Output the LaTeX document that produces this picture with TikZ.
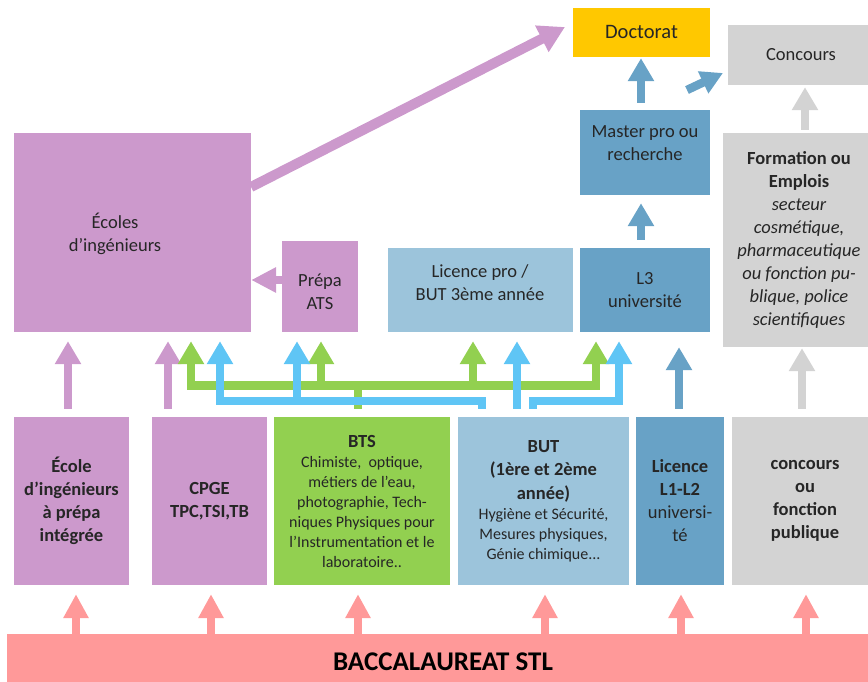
\documentclass[tikz,border=0pt]{standalone}
\usepackage{fontspec}
\setmainfont{Carlito}
\usetikzlibrary{arrows.meta}
\definecolor{cpurple}{RGB}{204,153,204}
\definecolor{cgreen}{RGB}{146,208,80}
\definecolor{clblue}{RGB}{156,196,219}
\definecolor{csteel}{RGB}{104,162,198}
\definecolor{ccyan}{RGB}{95,197,245}
\definecolor{cgray}{RGB}{211,211,211}
\definecolor{cyellow}{RGB}{255,200,0}
\definecolor{cpink}{RGB}{255,153,153}
\definecolor{ctext}{RGB}{38,38,38}
\begin{document}
\begin{tikzpicture}[x=1pt,y=-1pt,
  bx/.style 2 args={draw=none, inner sep=0pt, minimum width=#1pt, text width=#1pt, minimum height=#2pt, align=flush center, text=ctext, font=\fontsize{18.5}{23}\selectfont},
  lbl/.style={inner sep=0pt, align=flush center, text=ctext, font=\fontsize{18.5}{23}\selectfont},
  arr/.style={draw=#1, line width=8.5pt, -{Triangle[width=25pt,length=23pt]}},
  ln/.style={draw=#1, line width=8.5pt},
  gap/.style={shorten <=8pt, shorten >=9pt}
]
\useasboundingbox (0,0) rectangle (868,682);

% ---- top boxes
\node[bx={137}{49}, fill=cyellow, font=\fontsize{20.5}{24}\selectfont] (doct) at (641.5,32.5) {Doctorat};
\node[bx={146}{60}, fill=cgray] (conc) at (801,55) {Concours};
\node[bx={130}{85}, fill=csteel] (master) at (645,152.5) {};
\node[lbl] (tmaster) at (645,143) {Master pro ou\\recherche};
\node[bx={152}{214}, fill=cgray] (form) at (799,240) {{\bfseries Formation ou\\Emplois\par}{\itshape secteur\\cosmétique,\\pharmaceutique\\ou fonction pu-\\blique, police\\scientifiques\par}};
\node[bx={130}{84}, fill=csteel] (l3) at (645,290) {L3\\université};
\node[bx={185}{84}, fill=clblue] (lpro) at (480.5,290) {};
\node[lbl] (tlpro) at (480,283) {Licence pro /\\BUT 3ème année};
\node[bx={237}{199}, fill=cpurple] (ecoles) at (132.5,232.5) {};
\node[lbl] (tecoles) at (115,234) {Écoles\\d’ingénieurs};
\node[bx={76}{91}, fill=cpurple] (ats) at (320,286.5) {};
\node[lbl] (tats) at (320,292) {Prépa\\ATS};

% ---- bottom boxes
\node[bx={115}{168}, fill=cpurple] (eip) at (71.5,501) {\bfseries École\\d’ingénieurs\\à prépa\\intégrée};
\node[bx={115}{168}, fill=cpurple] (cpge) at (209.5,501) {\bfseries CPGE\\TPC,TSI,TB};
\node[bx={176}{168}, fill=cgreen] (bts) at (362,501) {{\bfseries BTS\par}{\fontsize{16}{20}\selectfont Chimiste,\ \ optique,\\métiers de l’eau,\\photographie, Tech-\\niques Physiques pour\\l’Instrumentation et le\\laboratoire..\par}};
\node[bx={171}{168}, fill=clblue] (but) at (543.5,501) {{\bfseries\fontsize{18.5}{23.5}\selectfont BUT\\(1ère et 2ème\\année)\par}{\fontsize{16}{20}\selectfont Hygiène et Sécurité,\\Mesures physiques,\\Génie chimique...\par}};
\node[bx={88}{168}, fill=csteel] (lic) at (680,501) {{\bfseries Licence\\L1-L2\par}universi-\\té};
\node[bx={146}{168}, fill=cgray] (cfp) at (805,501) {\bfseries concours\\ou\\fonction\\publique};

\node[bx={872}{56}, fill=cpink, text=black, font=\fontsize{27}{30}\selectfont\bfseries] (bac) at (443,662) {BACCALAUREAT STL};

% ---- x positions and levels
\coordinate (xp1) at (68,0);  \coordinate (xp2) at (168,0);
\coordinate (xg1) at (191,0); \coordinate (xg2) at (321,0);
\coordinate (xg3) at (473,0); \coordinate (xg4) at (596,0);
\coordinate (xgs) at (358,0);
\coordinate (xb1) at (220,0); \coordinate (xb2) at (297,0);
\coordinate (xb3) at (517,0); \coordinate (xb4) at (619,0);
\coordinate (xbl) at (482,0); \coordinate (xbr) at (533,0);
\coordinate (xl) at (679,0);  \coordinate (xc) at (802,0);
\coordinate (xm) at (641,0);  \coordinate (xf) at (805,0);
\coordinate (yg) at (0,385.5); \coordinate (yb) at (0,401);
\coordinate (yats) at (0,280);
\coordinate (ds) at (251,187); \coordinate (dtip) at (565,27);
\coordinate (mc1) at (687,90); \coordinate (mc2) at (723,73);
\coordinate (k1) at (76,0);  \coordinate (k2) at (211,0);
\coordinate (k3) at (358,0); \coordinate (k4) at (545,0);
\coordinate (k5) at (681,0); \coordinate (k6) at (806,0);

% ---- pink arrows from the baccalaureate
\foreach \k in {k1,k2,k3,k4,k5,k6}
  \draw[arr=cpink, line width=8pt, -{Triangle[width=24pt,length=24pt]}, shorten >=9pt] (\k |- bac.north) -- (\k |- eip.south);

% ---- purple
\draw[arr=cpurple, gap] (xp1 |- eip.north) -- (xp1 |- ecoles.south);
\draw[arr=cpurple, gap] (xp2 |- cpge.north) -- (xp2 |- ecoles.south);
\draw[arr=cpurple, line width=10pt, -{Triangle[width=28pt,length=26pt]}] (ds) -- (dtip);
\draw[arr=cpurple, -{Triangle[width=24pt,length=25pt]}] (ats.west |- yats) -- (ecoles.east |- yats);

% ---- green (BTS)
\draw[ln=cgreen, shorten <=8pt] (xgs |- bts.north) -- (xgs |- yg);
\draw[arr=cgreen, shorten >=9pt] (xgs |- yg) -| (xg1 |- ecoles.south);
\draw[arr=cgreen, shorten >=9pt] (xgs |- yg) -| (xg2 |- ats.south);
\draw[arr=cgreen, shorten >=9pt] (xgs |- yg) -| (xg3 |- lpro.south);
\draw[arr=cgreen, shorten >=9pt] (xgs |- yg) -| (xg4 |- l3.south);

% ---- cyan (BUT)
\draw[arr=ccyan, gap] (xbl |- but.north) -- (xbl |- yb) -| (xb1 |- ecoles.south);
\draw[arr=ccyan, shorten >=9pt] (xb2 |- yb) -- (xb2 |- ats.south);
\draw[arr=ccyan, gap] (xb3 |- but.north) -- (xb3 |- lpro.south);
\draw[arr=ccyan, gap] (xbr |- but.north) -- (xbr |- yb) -| (xb4 |- l3.south);

% ---- steel blue / gray
\draw[arr=csteel, shorten <=8pt, shorten >=15pt] (xl |- lic.north) -- (xl |- l3.south);
\draw[arr=cgray, shorten <=8pt, shorten >=1pt] (xc |- cfp.north) -- (xc |- form.south);
\draw[arr=csteel, shorten <=8pt, shorten >=8pt] (xm |- l3.north) -- (xm |- master.south);
\draw[arr=csteel, shorten <=7pt, shorten >=1pt] (xm |- master.north) -- (xm |- doct.south);
\draw[arr=cgray, shorten <=3pt, shorten >=2pt] (xf |- form.north) -- (xf |- conc.south);
\draw[arr=csteel, -{Triangle[width=23pt,length=22pt]}] (mc1) -- (mc2);
\end{tikzpicture}
\end{document}
